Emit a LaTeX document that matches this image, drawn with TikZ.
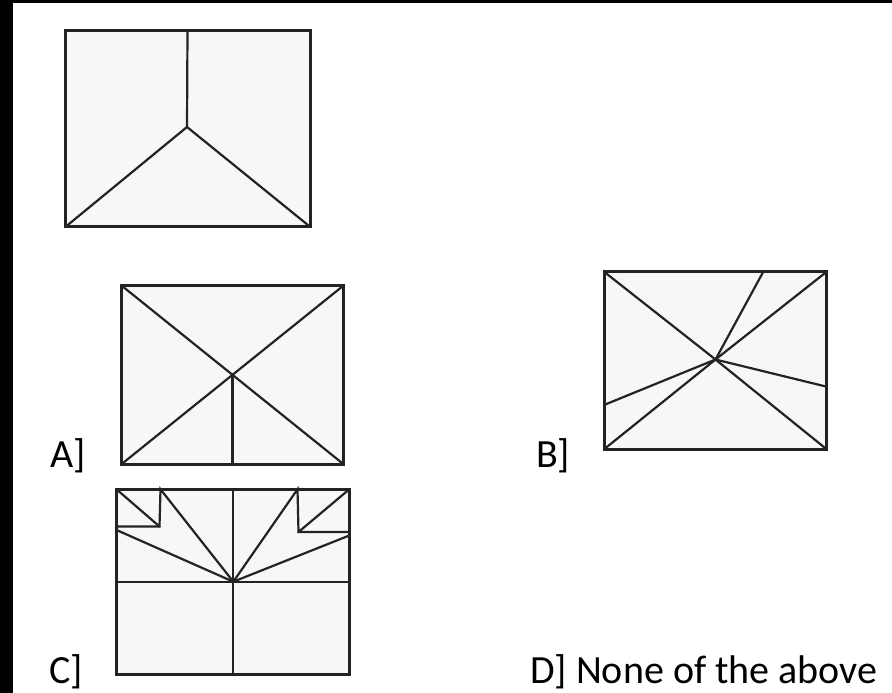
\documentclass[tikz,border=0pt]{standalone}
\usepackage{fontspec}
\setmainfont{Carlito}
\usepackage{tikz}
\usetikzlibrary{positioning,calc}
\usepackage{xcolor}
\definecolor{panelgray}{RGB}{247,247,247}
\definecolor{inkgray}{RGB}{35,35,35}
\tikzset{
  figbox/.style={draw=inkgray, line width=3pt, fill=panelgray, line join=miter},
  figline/.style={draw=inkgray, line width=2.2pt, line cap=round},
  optlabel/.style={font=\fontsize{40}{42}\selectfont, anchor=base west, inner sep=0pt},
}

\begin{document}
\begin{tikzpicture}[x=1pt, y=-1pt]
\useasboundingbox (0,0) rectangle (892,693);
\fill[white] (0,0) rectangle (892,693);
\fill[black] (0,0) rectangle (892,3.3);
\fill[black] (0,0) rectangle (12.7,693);

% question figure
\coordinate (q1) at (65.7,30.7);
\coordinate (q2) at (310,226.7);
\coordinate (qc) at (187,127);
\draw[figbox] (q1) rectangle (q2);
\draw[figline] (187.5,30.7) -- (qc);
\draw[figline] (q1 |- q2) -- (qc) -- (q2);

% option A
\coordinate (a1) at (121.7,285.7);
\coordinate (a2) at (343.3,464);
\coordinate (ac) at ($(a1)!0.5!(a2)$);
\draw[figbox] (a1) rectangle (a2);
\draw[figline] (a1) -- (a2);
\draw[figline] (a1 |- a2) -- (a2 |- a1);
\draw[figline] (ac) -- (ac |- a2);

% option B
\coordinate (b1) at (604,271.7);
\coordinate (b2) at (826.7,449.3);
\coordinate (bc) at (715.5,359.5);
\draw[figbox] (b1) rectangle (b2);
\draw[figline] (b1) -- (bc) -- (b2);
\draw[figline] (b1 |- b2) -- (bc) -- (b2 |- b1);
\foreach \p in {(763.3,271.7), (604,405), (826.7,386.7)}
  \draw[figline] (bc) -- \p;

% option C
\coordinate (c1) at (116.5,489.3);
\coordinate (c2) at (349.3,674.3);
\coordinate (cc) at (233.3,581.7);
\draw[figbox] (c1) rectangle (c2);
\draw[figline] (c1 |- cc) -- (c2 |- cc);
\draw[figline] (cc |- c1) -- (cc |- c2);
% left notch
\coordinate (ln) at (159.5,526.5);
\draw[figline] (c1) -- (ln);
\draw[figline] (116.5,526.5) -- (ln) -- (160.5,489.3) -- (cc);
\draw[figline] (116.5,530) -- (cc);
% right notch
\coordinate (rn) at (298.5,532);
\draw[figline] (c2 |- c1) -- (rn);
\draw[figline] (349.3,532) -- (rn) -- (297.5,489.3) -- (cc);
\draw[figline] (349.3,535.5) -- (cc);

% labels
\node[optlabel] (labA) at (50,467) {A]};
\node[optlabel] (labB) at (536,467) {B]};
\node[optlabel] (labC) at (49,683) {C]};
\node[optlabel] (labD) at (530,683) {D] None of the above};
\end{tikzpicture}
\end{document}
